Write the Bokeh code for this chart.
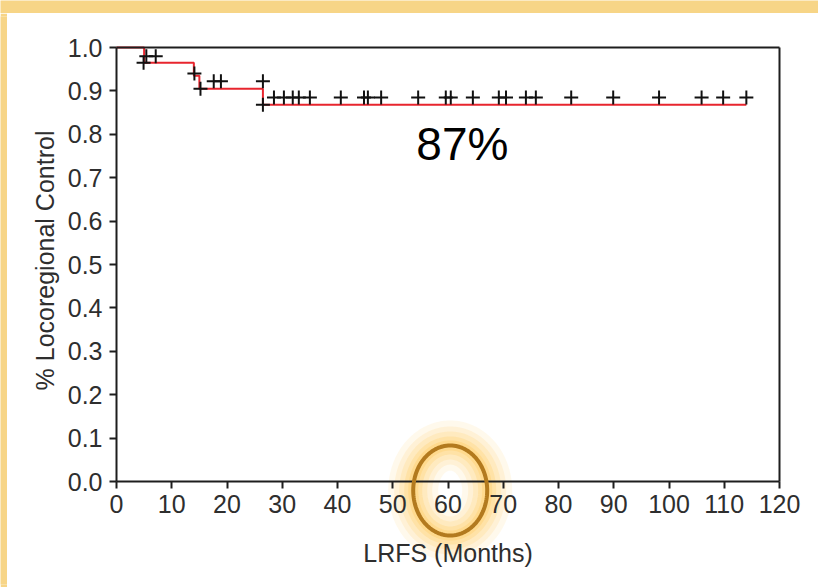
import numpy as np
from bokeh.plotting import figure
from bokeh.models import Range1d, FixedTicker, Label, PolyAnnotation, LinearAxis
from bokeh.layouts import column, row
from bokeh.embed import file_html
from bokeh.resources import INLINE

# Kaplan-Meier estimate of locoregional control (step function)
event_months = [0.0, 5.0, 14.0, 15.0, 26.5, 114.0]
event_surv = [1.0, 0.965, 0.935, 0.905, 0.868, 0.868]

# censored observations
censor_months = [4.9, 5.4, 7.1, 14.1, 15.2, 17.6, 18.9, 26.5, 26.5,
                 28.5, 30.3, 31.9, 33.0, 35.0, 40.6, 44.8, 45.5, 47.9,
                 54.6, 59.6, 60.5, 64.5, 69.2, 70.5, 74.1, 75.9,
                 82.3, 89.9, 98.2, 105.9, 109.8, 114.0]
censor_surv = [0.965, 0.98, 0.98, 0.94, 0.905, 0.922, 0.922, 0.922, 0.868,
               0.885, 0.885, 0.885, 0.885, 0.885, 0.885, 0.885, 0.885, 0.885,
               0.885, 0.885, 0.885, 0.885, 0.885, 0.885, 0.885, 0.885,
               0.885, 0.885, 0.885, 0.885, 0.885, 0.885]

x_ticks = [0, 10, 20, 30, 40, 50, 60, 70, 80, 90, 100, 110, 120]
y_ticks = [0.0, 0.1, 0.2, 0.3, 0.4, 0.5, 0.6, 0.7, 0.8, 0.9, 1.0]
y_tick_labels = ["0.0", "0.1", "0.2", "0.3", "0.4", "0.5", "0.6", "0.7", "0.8", "0.9", "1.0"]

x_title = "LRFS (Months)"
y_title = "% Locoregional Control"
rate_label = "87%"
rate_value = 0.868
highlight_tick = 60

X_MAX, Y_MAX = 120, 1.0

FONT = "Liberation Sans"
BAND = "#f7d587"
INK = "#1e1e1e"
TEXT = "#2e2e2e"

# page geometry: the plotting frame covers nearly the whole canvas and the
# axes are pinned at fixed data locations inside it
W, H = 811, 574
PAD = 3
PX_PER_MONTH = 5.525
PX_PER_UNIT = 434.0
ORIGIN_X = 106          # pixel offset of month 0 from the frame's left edge
TOP_GAP = 31            # pixel offset of 1.0 from the frame's top edge
frame_w, frame_h = W - 2 * PAD, H - 2 * PAD
x_start = -ORIGIN_X / PX_PER_MONTH
x_end = x_start + frame_w / PX_PER_MONTH
y_end = Y_MAX + TOP_GAP / PX_PER_UNIT
y_start = y_end - frame_h / PX_PER_UNIT

p = figure(width=W, height=H, output_backend="svg", toolbar_location=None,
           x_range=Range1d(x_start, x_end), y_range=Range1d(y_start, y_end),
           min_border=PAD, background_fill_color="white", border_fill_color="white")
p.grid.visible = False
p.outline_line_color = None


def style_axis(ax):
    ax.axis_line_color = INK
    ax.axis_line_width = 2
    ax.major_tick_line_color = INK
    ax.major_tick_line_width = 2
    ax.major_tick_out = 7
    ax.major_tick_in = 0
    ax.minor_tick_line_color = None
    ax.major_label_text_font = FONT
    ax.major_label_text_font_size = "25px"
    ax.major_label_text_color = TEXT


xax = p.xaxis[0]
yax = p.yaxis[0]
style_axis(xax)
style_axis(yax)
xax.ticker = FixedTicker(ticks=x_ticks)
yax.ticker = FixedTicker(ticks=y_ticks)
yax.major_label_overrides = {t: s for t, s in zip(y_ticks, y_tick_labels)}
xax.fixed_location = 0
yax.fixed_location = 0
xax.bounds = (0, X_MAX)
yax.bounds = (0, Y_MAX)
xax.major_label_standoff = 6
yax.major_label_standoff = 7

# closing lines of the plot box (top and right)
top_ax = LinearAxis(ticker=FixedTicker(ticks=[]), fixed_location=Y_MAX, bounds=(0, X_MAX))
right_ax = LinearAxis(ticker=FixedTicker(ticks=[]), fixed_location=X_MAX, bounds=(0, Y_MAX))
for ax in (top_ax, right_ax):
    ax.axis_line_color = INK
    ax.axis_line_width = 2
    ax.major_tick_line_color = None
    ax.minor_tick_line_color = None
p.add_layout(top_ax, "above")
p.add_layout(right_ax, "right")

# axis titles
p.add_layout(Label(x=X_MAX / 2, y=0, y_offset=-71, text=x_title,
                   text_font=FONT, text_font_size="25px", text_color=TEXT,
                   text_align="center", text_baseline="middle"))
p.add_layout(Label(x=0, y=Y_MAX / 2, x_offset=-72, y_offset=4, text=y_title,
                   angle=np.pi / 2, text_font=FONT, text_font_size="25px",
                   text_color=TEXT, text_align="center", text_baseline="middle"))

p.step(event_months, event_surv, mode="after", line_color="#e8252e", line_width=2)
p.scatter(censor_months, censor_surv, marker="cross", size=14,
          line_color="#111111", line_width=2)

p.add_layout(Label(x=62.6, y=rate_value, y_offset=-39, text=rate_label,
                   text_font=FONT, text_font_size="46px", text_color="black",
                   text_align="center", text_baseline="middle"))

# highlight ring around one x tick label, with a soft glow
theta = np.linspace(0, 2 * np.pi, 121)
cx, cy = highlight_tick + 0.4, -9.0 / PX_PER_UNIT
rx, ry = 37 / PX_PER_MONTH, 45 / PX_PER_UNIT
ring_xs = list(cx + rx * np.cos(theta))
ring_ys = list(cy + ry * np.sin(theta))
for lw, alpha in [(50, 0.10), (38, 0.13), (28, 0.16), (18, 0.2), (10, 0.25)]:
    p.add_layout(PolyAnnotation(xs=ring_xs, ys=ring_ys, fill_alpha=0,
                                line_color="#ffc548", line_alpha=alpha,
                                line_width=lw, level="underlay"))
p.add_layout(PolyAnnotation(xs=ring_xs, ys=ring_ys, fill_alpha=0,
                            line_color="#b37a1e", line_alpha=1.0, line_width=4))


def band(w, h):
    f = figure(width=w, height=h, output_backend="svg", toolbar_location=None,
               x_axis_type=None, y_axis_type=None, min_border=0,
               background_fill_color=BAND, border_fill_color=BAND)
    f.outline_line_color = None
    f.grid.visible = False
    return f


top_band = band(818, 13)
left_band = band(7, 574)
layout = column(top_band, row(left_band, p, spacing=0), spacing=0)

open("out.html", "w").write(file_html(layout, INLINE))
